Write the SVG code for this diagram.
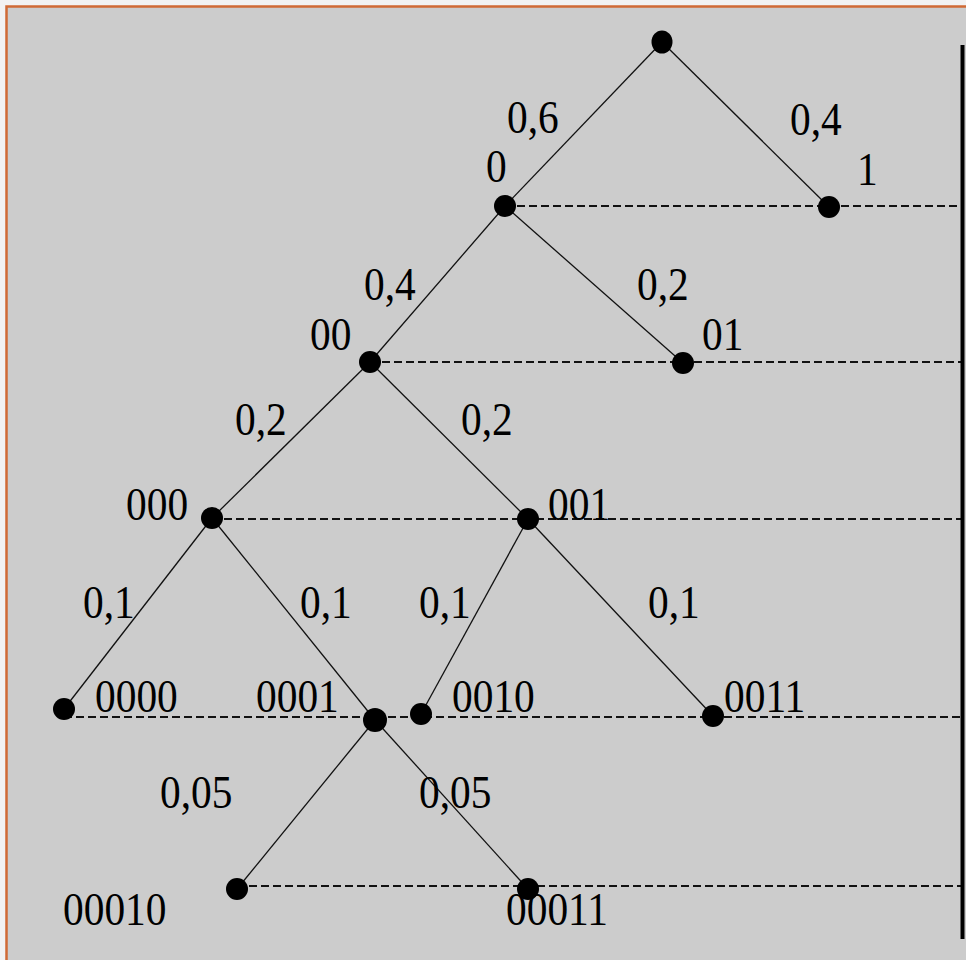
<svg xmlns="http://www.w3.org/2000/svg" width="966" height="960" viewBox="0 0 966 960">
<style>
.t{font-family:"Liberation Serif","Times New Roman",serif;font-size:46px;fill:#000}
.e{stroke:#111;stroke-width:1.3;fill:none}
.d{stroke:#111;stroke-width:2;stroke-dasharray:8 4;fill:none}
.n{fill:#000}
</style>
<rect x="0" y="0" width="966" height="960" fill="#f2f2f2"/>
<rect x="6.5" y="6.5" width="970" height="970" fill="#cccccc" stroke="#d06a35" stroke-width="2.5"/>
<g id="connectors">
<line class="d" x1="505" y1="206" x2="962" y2="206"/>
<line class="d" x1="370" y1="362" x2="962" y2="362"/>
<line class="d" x1="212" y1="519" x2="962" y2="519"/>
<line class="d" x1="64" y1="717" x2="962" y2="717"/>
<line class="d" x1="237" y1="886" x2="962" y2="886"/>
<line class="e" x1="662" y1="42" x2="505" y2="206"/>
<line class="e" x1="662" y1="42" x2="829" y2="207"/>
<line class="e" x1="505" y1="206" x2="370" y2="362"/>
<line class="e" x1="505" y1="206" x2="683" y2="363"/>
<line class="e" x1="370" y1="362" x2="212" y2="518"/>
<line class="e" x1="370" y1="362" x2="528" y2="519"/>
<line class="e" x1="212" y1="518" x2="64" y2="709"/>
<line class="e" x1="212" y1="518" x2="375" y2="720"/>
<line class="e" x1="528" y1="519" x2="421" y2="714"/>
<line class="e" x1="528" y1="519" x2="713" y2="716"/>
<line class="e" x1="375" y1="720" x2="237" y2="889"/>
<line class="e" x1="375" y1="720" x2="528" y2="889"/>
<line x1="962.5" y1="45" x2="962.5" y2="939" stroke="#000" stroke-width="4"/>
</g>
<g id="edge-labels">
<text class="t" transform="translate(507 133) scale(0.9 1)">0,6</text>
<text class="t" transform="translate(790 135) scale(0.9 1)">0,4</text>
<text class="t" transform="translate(364 300) scale(0.9 1)">0,4</text>
<text class="t" transform="translate(637 300) scale(0.9 1)">0,2</text>
<text class="t" transform="translate(235 435) scale(0.9 1)">0,2</text>
<text class="t" transform="translate(461 435) scale(0.9 1)">0,2</text>
<text class="t" transform="translate(83 618) scale(0.9 1)">0,1</text>
<text class="t" transform="translate(300 618) scale(0.9 1)">0,1</text>
<text class="t" transform="translate(419 618) scale(0.9 1)">0,1</text>
<text class="t" transform="translate(648 618) scale(0.9 1)">0,1</text>
<text class="t" transform="translate(160 808) scale(0.9 1)">0,05</text>
<text class="t" transform="translate(419 808) scale(0.9 1)">0,05</text>
</g>
<g id="node-root"><ellipse class="n" cx="662" cy="42" rx="10.5" ry="11.5"/></g>
<g id="node-0"><circle class="n" cx="505" cy="206" r="11"/><text class="t" transform="translate(486 182) scale(0.9 1)">0</text></g>
<g id="node-1"><circle class="n" cx="829" cy="207" r="11"/><text class="t" transform="translate(857 185) scale(0.9 1)">1</text></g>
<g id="node-00"><circle class="n" cx="370" cy="362" r="11"/><text class="t" transform="translate(310 350) scale(0.9 1)">00</text></g>
<g id="node-01"><circle class="n" cx="683" cy="363" r="11"/><text class="t" transform="translate(702 350) scale(0.9 1)">01</text></g>
<g id="node-000"><circle class="n" cx="212" cy="518" r="11"/><text class="t" transform="translate(126 520) scale(0.9 1)">000</text></g>
<g id="node-001"><circle class="n" cx="528" cy="519" r="11"/><text class="t" transform="translate(548 520) scale(0.9 1)">001</text></g>
<g id="node-0000"><circle class="n" cx="64" cy="709" r="11"/><text class="t" transform="translate(95 712) scale(0.9 1)">0000</text></g>
<g id="node-0001"><circle class="n" cx="375" cy="720" r="12"/><text class="t" transform="translate(256 712) scale(0.9 1)">0001</text></g>
<g id="node-0010"><circle class="n" cx="421" cy="714" r="11"/><text class="t" transform="translate(452 712) scale(0.9 1)">0010</text></g>
<g id="node-0011"><circle class="n" cx="713" cy="716" r="11"/><text class="t" transform="translate(724 712) scale(0.9 1)">0011</text></g>
<g id="node-00010"><circle class="n" cx="237" cy="889" r="11"/><text class="t" transform="translate(63 925) scale(0.9 1)">00010</text></g>
<g id="node-00011"><circle class="n" cx="528" cy="889" r="11"/><text class="t" transform="translate(506 925) scale(0.9 1)">00011</text></g>
</svg>
